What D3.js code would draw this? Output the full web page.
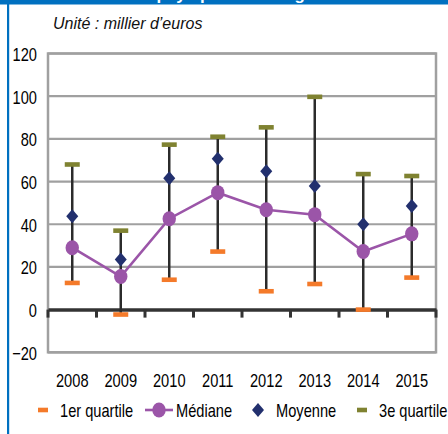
<!DOCTYPE html>
<html>
<head>
<meta charset="utf-8">
<script src="https://d3js.org/d3.v7.min.js"></script>
<style>
  body { margin: 0; background: #fff; }
  text { font-family: "Liberation Sans", Arial, sans-serif; }
</style>
</head>
<body>
<script>
// donnees (milliers d'euros)
var annees = ["2008", "2009", "2010", "2011", "2012", "2013", "2014", "2015"];
var quartile1 = [12.5, -2.3, 14, 27.2, 8.6, 12, 0, 15];
var mediane = [29, 15.5, 42.6, 54.8, 46.8, 44.5, 27.2, 35.5];
var moyenne = [43.7, 23.5, 61.6, 70.7, 64.8, 57.9, 40, 48.5];
var quartile3 = [68, 37, 77.3, 81, 85.4, 99.7, 63.5, 62.6];
var yTicks = [-20, 0, 20, 40, 60, 80, 100, 120];
var legende = ["1er quartile", "Médiane", "Moyenne", "3e quartile"];

var W = 448, H = 434;
var plot = { left: 48, right: 436, top: 53.5, bottom: 352.3 };
var fs = "19px";

var svg = d3.select("body").append("svg")
    .attr("width", W)
    .attr("height", H);

// police etroite : on comprime le texte horizontalement
function etroit(sel) {
    sel.each(function() {
        var w = this.getComputedTextLength();
        d3.select(this).attr("textLength", w * 0.77).attr("lengthAdjust", "spacingAndGlyphs");
    });
}

// cadre bleu
svg.append("rect").attr("x", 0).attr("y", 0).attr("width", W).attr("height", 4.5).attr("fill", "#0070c0");
svg.append("rect").attr("x", 7).attr("y", 0).attr("width", 2.2).attr("height", H).attr("fill", "#0070c0");
svg.append("text")
    .attr("x", 96).attr("y", -0.5)
    .attr("fill", "#fff")
    .style("font-weight", "bold")
    .style("font-size", "17px")
    .text("Salaire payé par le ménage");

svg.append("text")
    .attr("x", 53).attr("y", 28.5)
    .style("font-style", "italic")
    .style("font-size", "16px")
    .attr("fill", "#111")
    .text("Unité : millier d’euros");

var x = d3.scaleBand().domain(annees).range([plot.left, plot.right]).padding(0);
var y = d3.scaleLinear().domain([-20, 120]).range([plot.bottom, plot.top]);
var cx = function(d, i) { return x(annees[i]) + x.bandwidth() / 2; };

// grille
svg.append("g").selectAll("line")
    .data(yTicks.filter(function(t) { return t !== 0; }))
    .enter().append("line")
    .attr("x1", plot.left).attr("x2", plot.right)
    .attr("y1", function(d) { return y(d); })
    .attr("y2", function(d) { return y(d); })
    .attr("stroke", "#a0a0a0")
    .attr("stroke-width", 2.2);

svg.append("rect")
    .attr("x", plot.left).attr("y", plot.top)
    .attr("width", plot.right - plot.left)
    .attr("height", plot.bottom - plot.top)
    .attr("fill", "none")
    .attr("stroke", "#a0a0a0")
    .attr("stroke-width", 2.5);

// axe y
var yAxis = svg.append("g")
    .attr("transform", "translate(" + (plot.left - 11) + ",0)")
    .call(d3.axisLeft(y).tickValues(yTicks).tickSize(0).tickPadding(0).tickFormat(d3.format("d")));
yAxis.select(".domain").remove();
yAxis.selectAll("text").style("font-size", fs).style("font-family", null).attr("fill", "#000").attr("dy", "0.36em").call(etroit);

// axe x sur le zero
var xAxis = svg.append("g")
    .attr("transform", "translate(0," + y(0) + ")")
    .call(d3.axisBottom(x).tickSize(0).tickPadding(0));
xAxis.select(".domain").attr("stroke", "#333").attr("stroke-width", 3.5);
xAxis.selectAll("text").remove();
svg.append("g").selectAll("line")
    .data(d3.range(annees.length + 1))
    .enter().append("line")
    .attr("x1", function(i) { return plot.left + i * x.step(); })
    .attr("x2", function(i) { return plot.left + i * x.step(); })
    .attr("y1", y(0)).attr("y2", y(0) + 8)
    .attr("stroke", "#333").attr("stroke-width", 3);

svg.append("g").selectAll("text")
    .data(annees)
    .enter().append("text")
    .attr("x", function(d, i) { return cx(d, i); })
    .attr("y", 386.5)
    .attr("text-anchor", "middle")
    .style("font-size", fs)
    .text(function(d) { return d; })
    .call(etroit);

// lignes haut-bas
svg.append("g").selectAll("line")
    .data(annees)
    .enter().append("line")
    .attr("x1", cx).attr("x2", cx)
    .attr("y1", function(d, i) { return y(quartile1[i]); })
    .attr("y2", function(d, i) { return y(quartile3[i]); })
    .attr("stroke", "#2b2b2b").attr("stroke-width", 2.5);

function tirets(vals, color) {
    svg.append("g").selectAll("rect")
        .data(vals)
        .enter().append("rect")
        .attr("x", function(d, i) { return cx(d, i) - 7.5; })
        .attr("y", function(d) { return y(d) - 2.3; })
        .attr("width", 15).attr("height", 4.6)
        .attr("fill", color);
}
tirets(quartile1, "#f47a2a");
tirets(quartile3, "#7f8231");

// mediane
svg.append("path")
    .datum(mediane)
    .attr("d", d3.line().x(function(d, i) { return cx(d, i); }).y(function(d) { return y(d); }))
    .attr("fill", "none")
    .attr("stroke", "#9b55a8")
    .attr("stroke-width", 2.6);
svg.append("g").selectAll("ellipse")
    .data(mediane)
    .enter().append("ellipse")
    .attr("cx", cx).attr("cy", function(d) { return y(d); })
    .attr("rx", 6.7).attr("ry", 7.5)
    .attr("fill", "#9b55a8");

// moyenne
var diamant = function(px, py) {
    return "M" + px + "," + (py - 7) + "L" + (px + 6) + "," + py + "L" + px + "," + (py + 7) + "L" + (px - 6) + "," + py + "Z";
};
svg.append("g").selectAll("path")
    .data(moyenne)
    .enter().append("path")
    .attr("d", function(d, i) { return diamant(cx(d, i), y(d)); })
    .attr("fill", "#22306e");

// legende
var ly = 410;
var leg = svg.append("g");
leg.append("rect").attr("x", 38).attr("y", ly - 2.3).attr("width", 10).attr("height", 4.6).attr("fill", "#f47a2a");
leg.append("line").attr("x1", 145).attr("x2", 173).attr("y1", ly).attr("y2", ly).attr("stroke", "#9b55a8").attr("stroke-width", 2.6);
leg.append("ellipse").attr("cx", 159).attr("cy", ly).attr("rx", 6.7).attr("ry", 7.5).attr("fill", "#9b55a8");
leg.append("path").attr("d", diamant(258, ly)).attr("fill", "#22306e");
leg.append("rect").attr("x", 357).attr("y", ly - 2.3).attr("width", 10).attr("height", 4.6).attr("fill", "#7f8231");
leg.selectAll("text")
    .data(legende)
    .enter().append("text")
    .attr("x", function(d, i) { return [60, 176, 276, 379][i]; })
    .attr("y", ly + 7)
    .style("font-size", fs)
    .text(function(d) { return d; })
    .call(etroit);
</script>
</body>
</html>
